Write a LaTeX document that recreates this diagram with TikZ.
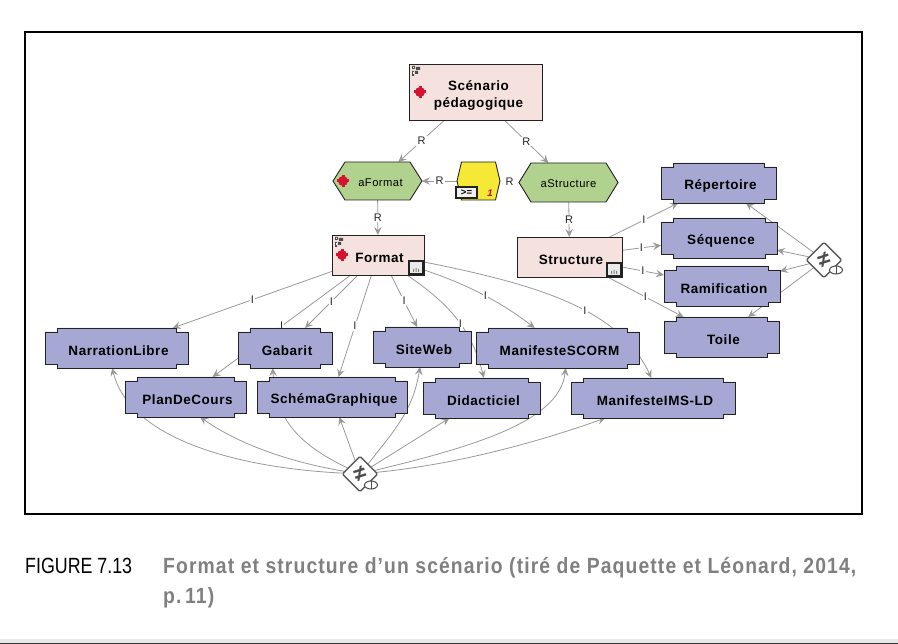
\documentclass[tikz,border=0pt]{standalone}
\usepackage{fontspec}
\setmainfont{Liberation Sans}
\newfontfamily\boxfont[LetterSpace=4]{Liberation Sans}
\newfontfamily\capfont[FakeStretch=0.81]{Liberation Sans}
\newfontfamily\capboldfont[FakeStretch=0.88,LetterSpace=5]{Liberation Sans}
\usetikzlibrary{arrows.meta,calc,shapes.geometric}
\pgfdeclarelayer{bg}
\pgfsetlayers{bg,main}
\definecolor{boxblue}{HTML}{A6A8D3}
\definecolor{boxpink}{HTML}{F5E2DE}
\definecolor{boxgreen}{HTML}{B0D28E}
\definecolor{boxyellow}{HTML}{F5E935}
\definecolor{linkgray}{HTML}{999999}
\definecolor{darkline}{HTML}{222222}
\definecolor{redicon}{HTML}{D2142E}
\tikzset{
  shapeline/.style={draw=darkline,line width=0.9pt,line join=miter},
  holder/.style={inner sep=0pt,outer sep=0pt,align=center,text=black},
  boldlabel/.style={holder,font=\fontsize{13.5}{17}\selectfont\boxfont\bfseries},
  hexlabel/.style={holder,font=\fontsize{11.2}{13}\selectfont\boxfont},
  link/.style={draw=linkgray,line width=0.8pt},
  linka/.style={link,-{Stealth[length=8pt,width=7.5pt,inset=3pt,fill=linkgray]}},
  tag/.style={fill=white,inner sep=1.2pt,text=black!85,font=\fontsize{11}{12}\selectfont},
  decision/.style={diamond,aspect=1,draw=black!65,line width=1.4pt,fill=white,inner sep=0pt,minimum width=36pt,minimum height=36pt,rounded corners=1.5pt,font=\fontsize{22}{22}\selectfont\bfseries,text=black!70},
  oval/.style={ellipse,draw=black!70,line width=1pt,fill=white,inner sep=0pt,minimum width=13pt,minimum height=8pt}
}
\newcommand\lift{\rule{0pt}{15.5pt}}
\newcommand\nbox[6]{%
  \pgfmathsetmacro\xa{-#4/2}\pgfmathsetmacro\xb{-#4/2+12}\pgfmathsetmacro\xc{#4/2-12}\pgfmathsetmacro\xd{#4/2}%
  \pgfmathsetmacro\ya{-#5/2}\pgfmathsetmacro\yb{-#5/2+4}\pgfmathsetmacro\yc{#5/2-4}\pgfmathsetmacro\yd{#5/2}%
  \begin{scope}[shift={(#2,#3)}]
    \draw[shapeline,fill=boxblue] (\xa,\yb) -- (\xb,\yb) -- (\xb,\ya) -- (\xc,\ya) -- (\xc,\yb) -- (\xd,\yb) -- (\xd,\yc) -- (\xc,\yc) -- (\xc,\yd) -- (\xb,\yd) -- (\xb,\yc) -- (\xa,\yc) -- cycle;
  \end{scope}
  \node[boldlabel,minimum width=#4pt,minimum height=#5pt] (#1) at (#2,#3) {\lift\hspace*{4pt}#6};
}
\newcommand\hexbox[8]{% name cx cy w h inset colour text
  \pgfmathsetmacro\xa{-#4/2}\pgfmathsetmacro\xb{-#4/2+#6}\pgfmathsetmacro\xc{#4/2-#6}\pgfmathsetmacro\xd{#4/2}%
  \pgfmathsetmacro\ya{-#5/2}\pgfmathsetmacro\yd{#5/2}%
  \begin{scope}[shift={(#2,#3)}]
    \draw[shapeline,fill=#7] (\xa,0) -- (\xb,\ya) -- (\xc,\ya) -- (\xd,0) -- (\xc,\yd) -- (\xb,\yd) -- cycle;
  \end{scope}
  \node[hexlabel,minimum width=#4pt,minimum height=#5pt] (#1) at (#2,#3) {#8};
}
\newcommand\cornermark[1]{%
  \begin{scope}[shift={(#1.north west)}]
    \fill[black!70] (3,2) rectangle (6,5) (7,3) rectangle (11,6) (3,7) rectangle (5,12) (6,7) rectangle (9,10);
    \fill[white] (4,3) rectangle (5,4) (4,8) rectangle (5,10);
  \end{scope}}
\newcommand\redmark[2]{\fill[redicon] (#1.west)++(#2,0) circle (5pt);
  \fill[redicon] (#1.west)++(#2,0) ++(-6,-1.5) rectangle ++(12,3);
  \fill[redicon] (#1.west)++(#2,0) ++(-1.5,-6) rectangle ++(3,12);}
\newcommand\barmark[1]{%
  \begin{scope}[shift={(#1.south east)}]
    \draw[draw=darkline,fill=black!8,line width=1.1pt] (-15,-14) rectangle (-1,-1);
    \fill[black!50] (-11,-6) rectangle (-10,-3) (-8.5,-7) rectangle (-7.5,-3) (-6,-6) rectangle (-5,-3);
  \end{scope}}
\begin{document}
\begin{tikzpicture}[x=1pt,y=-1pt]
\useasboundingbox (0,0) rectangle (898,644);
\draw[black,line width=1.2pt] (25,32) rectangle (862,514);

% pink concept boxes
\node[boldlabel,draw=darkline,line width=0.9pt,fill=boxpink,minimum width=133pt,minimum height=56pt] (sc) at (475.5,92) {\rule{0pt}{16pt}\hspace*{6pt}Scénario\\\hspace*{6pt}pédagogique};
\node[boldlabel,draw=darkline,line width=0.9pt,fill=boxpink,minimum width=92pt,minimum height=40pt] (fm) at (378,255) {\lift\hspace*{3pt}Format};
\node[boldlabel,draw=darkline,line width=0.9pt,fill=boxpink,minimum width=105pt,minimum height=40pt] (st) at (569.5,257) {\lift\hspace*{3pt}Structure};

% hexagons
\hexbox{af}{377.5}{181}{89}{38}{12}{boxgreen}{\rule{0pt}{12pt}\hspace*{6pt}aFormat}
\hexbox{as}{568.5}{182.5}{99}{39}{12}{boxgreen}{\rule{0pt}{11pt}aStructure}
\hexbox{yl}{478.5}{181}{43}{38}{4.5}{boxyellow}{}

% blue boxes
\nbox{re}{718.5}{183}{115}{40}{Répertoire}
\nbox{se}{719}{238}{116}{40}{Séquence}
\nbox{ra}{722}{286}{116}{40}{Ramification}
\nbox{to}{721.5}{337}{115}{40}{Toile}
\nbox{nl}{116.5}{348}{143}{40}{NarrationLibre}
\nbox{ga}{285}{348}{94}{40}{Gabarit}
\nbox{pc}{185.5}{397}{121}{40}{PlanDeCours}
\nbox{sg}{332}{397}{150}{40}{SchémaGraphique}
\nbox{sw}{422}{347}{98}{40}{SiteWeb}
\nbox{ms}{557.5}{348}{163}{40}{ManifesteSCORM}
\nbox{di}{481.5}{398}{117}{40}{Didacticiel}
\nbox{im}{653}{398}{164}{40}{ManifesteIMS-LD}

% decision diamonds
\node[decision] (dr) at (824,260) {\rotatebox{18}{≠}};
\node[oval] (ore) at (836,270) {};
\node[decision] (db) at (360,474) {\rotatebox{18}{≠}};
\node[oval] (obo) at (371,485) {};
\draw[black!70,line width=.8pt] (ore.north) -- (ore.south) (obo.north) -- (obo.south);

% icons
\cornermark{sc}\cornermark{fm}
\redmark{sc}{11}\redmark{fm}{10}\redmark{af}{10}
\barmark{fm}\barmark{st}
\draw[draw=darkline,fill=black!6,line width=1.1pt] (456,187) rectangle (477,198);
\node[inner sep=0pt,font=\fontsize{9.5}{10}\selectfont\bfseries] (ge) at (466.5,192.5) {>=};
\node[inner sep=0pt,text=red!85!black,font=\fontsize{9.5}{10}\selectfont\bfseries\itshape] (one) at (490,193) {1};

% connectors, behind the boxes
\begin{pgfonlayer}{bg}
\draw[linka] (sc) -- node[tag]{R} (af);
\draw[linka] (sc) -- node[tag]{R} (as);
\draw[linka] (yl) -- node[tag]{R} (af);
\draw[link] (yl) -- node[tag,minimum width=19pt]{R} (as);
\draw[linka] (af) -- node[tag]{R} (fm);
\draw[linka] (as) -- node[tag]{R} (st);

\draw[linka] (fm) -- node[tag]{I} (nl);
\draw[linka] (fm) -- node[tag]{I} (ga);
\draw[linka] (fm) -- node[tag]{I} (pc);
\draw[linka] (fm) -- node[tag]{I} (sg);
\draw[linka] ($(fm.south)+(13,0)$) -- node[tag,pos=.5]{I} ($(sw.north west)!.45!(sw.north east)$);
\draw[linka] ($(fm.south east)+(-17,0)$) .. controls (440,298) and (470,322) .. node[tag,pos=.6]{I} ($(di.north west)!.52!(di.north east)$);
\draw[linka] ($(fm.east)+(0,15)$) .. controls (470,285) and (505,305) .. node[tag,pos=.5]{I} ($(ms.north west)!.36!(ms.north east)$);
\draw[linka] ($(fm.east)+(0,7)$) .. controls (540,285) and (620,310) .. node[tag,pos=.57]{I} ($(im.north west)!.49!(im.north east)$);

\draw[linka] (st) -- node[tag]{I} (re);
\draw[linka] (st) -- node[tag]{I} (se);
\draw[linka] (st) -- node[tag]{I} (ra);
\draw[linka] (st) -- node[tag]{I} (to);

\draw[linka] (dr) -- (re);
\draw[linka] (dr) -- (se);
\draw[linka] (dr) -- (ra);
\draw[linka] (dr) -- (to);

\draw[linka] (db) -- (sg);
\draw[linka] (db) -- (di);
\draw[linka] (db) .. controls (240,468) and (130,440) .. ($(nl.south west)!.47!(nl.south east)$);
\draw[linka] (db) .. controls (290,462) and (240,445) .. ($(pc.south west)!.62!(pc.south east)$);
\draw[linka] (db) .. controls (300,445) and (275,420) .. ($(ga.south west)!.37!(ga.south east)$);
\draw[linka] (db) .. controls (395,430) and (413,410) .. ($(sw.south west)!.48!(sw.south east)$);
\draw[linka] (db) .. controls (480,445) and (560,420) .. ($(ms.south west)!.55!(ms.south east)$);
\draw[linka] (db) .. controls (450,465) and (530,445) .. ($(im.south west)!.21!(im.south east)$);
\end{pgfonlayer}

% caption
\node[anchor=base west,inner sep=0pt,font=\fontsize{22}{24}\selectfont\capfont] (figno) at (25,573) {FIGURE 7.13};
\node[anchor=base west,inner sep=0pt,text=black!50,font=\fontsize{22}{24}\selectfont\capboldfont\bfseries] (capa) at (163,573) {Format et structure d’un scénario (tiré de Paquette et Léonard, 2014,};
\node[anchor=base west,inner sep=0pt,text=black!50,font=\fontsize{22}{24}\selectfont\capboldfont\bfseries] (capb) at (163,603) {p.\,11)};

% page edge
\fill[black!9] (0,639) rectangle (898,643);
\fill[black!80] (0,643) rectangle (898,644);
\end{tikzpicture}
\end{document}
